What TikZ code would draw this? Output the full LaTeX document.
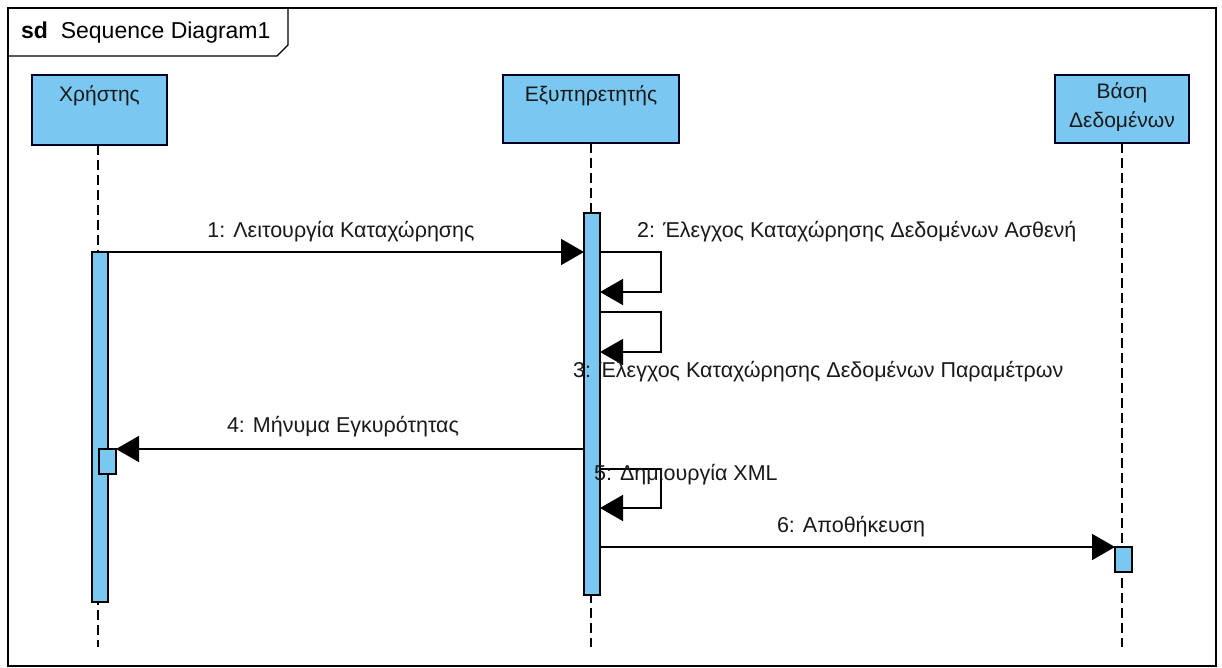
\documentclass[tikz,border=0pt]{standalone}
\usepackage{fontspec}
\setmainfont{Liberation Sans}
\usetikzlibrary{arrows.meta}
\definecolor{vpblue}{RGB}{122,200,242}
\tikzset{
  head/.style={draw=black!85!blue, line width=1.6pt, fill=vpblue, inner sep=0pt, outer sep=0pt, anchor=north west},
  act/.style={draw=black, line width=1.4pt, fill=vpblue, inner sep=0pt, outer sep=0pt, anchor=north west},
  lline/.style={draw=black, line width=1.5pt, dash pattern=on 10pt off 5pt},
  msg/.style={draw=black, line width=1.6pt, -{Triangle[length=23pt,width=26pt]}},
  lbl/.style={font=\fontsize{21.5}{25}\selectfont, text=black!90, inner sep=0pt},
  htext/.style={font=\fontsize{21}{29}\selectfont, text=black!90, inner sep=0pt, align=center, anchor=north}
}
\begin{document}
\begin{tikzpicture}[x=1pt,y=-1pt]
\useasboundingbox (0,0) rectangle (1222,668);
\fill[white] (0,0) rectangle (1222,668);
% frame
\draw[line width=1.3pt] (8,8) rectangle (1216,666);
\draw[line width=1.3pt] (8,56) -- (277,56) -- (288,45) -- (288,8);
\node[anchor=west, inner sep=0pt, font=\fontsize{23}{26}\selectfont] (title) at (21,33) {\textbf{sd}\ \ Sequence Diagram1};
% heads
\node[head, minimum width=135pt, minimum height=70pt] (h1) at (32,75) {};
\node[htext] (h1t) at (h1.north) [yshift=-10pt] {Χρήστης};
\node[head, minimum width=176pt, minimum height=68pt] (h2) at (503,75) {};
\node[htext] (h2t) at (h2.north) [yshift=-10pt] {Εξυπηρετητής};
\node[head, minimum width=134pt, minimum height=68pt] (h3) at (1055,75) {};
\node[htext] (h3t) at (h3.north) [yshift=-7pt] {Βάση\\Δεδομένων};
% lifelines
\coordinate (e1) at (98,647);
\coordinate (e2) at (591,647);
\coordinate (e3) at (1122,647);
\draw[lline] (h1.south -| e1) -- (e1);
\draw[lline] (h2.south -| e2) -- (e2);
\draw[lline] (h3.south -| e3) -- (e3);
% activations
\node[act, minimum width=16pt, minimum height=350pt] (a1) at (92,252) {};
\node[act, minimum width=17pt, minimum height=25pt] (a1b) at (99,449) {};
\node[act, minimum width=16pt, minimum height=382pt] (a2) at (584,213) {};
\node[act, minimum width=17pt, minimum height=25pt] (a3) at (1115,547) {};
% messages
\draw[msg] (a1.east |- 0,252) -- (a2.west |- 0,252);
\draw[msg] (a2.east |- 0,252) -- (661,252) -- (661,292) -- (a2.east |- 0,292);
\draw[msg] (a2.east |- 0,312) -- (661,312) -- (661,352) -- (a2.east |- 0,352);
\draw[msg] (a2.west |- 0,449) -- (a1b.east |- 0,449);
\draw[msg] (a2.east |- 0,469) -- (661,469) -- (661,508) -- (a2.east |- 0,508);
\draw[msg] (a2.east |- 0,547) -- (a3.west |- 0,547);
% labels
\node[lbl] (l1) at (341,232) {1: Λειτουργία Καταχώρησης};
\node[lbl, anchor=west] (l2) at (637,232) {2: Έλεγχος Καταχώρησης Δεδομένων Ασθενή};
\node[lbl, anchor=west] (l3) at (573,372) {3: Έλεγχος Καταχώρησης Δεδομένων Παραμέτρων};
\node[lbl] (l4) at (343,427) {4: Μήνυμα Εγκυρότητας};
\node[lbl, anchor=west] (l5) at (594,475) {5: Δημιουργία XML};
\node[lbl] (l6) at (851,527) {6: Αποθήκευση};
\end{tikzpicture}
\end{document}
